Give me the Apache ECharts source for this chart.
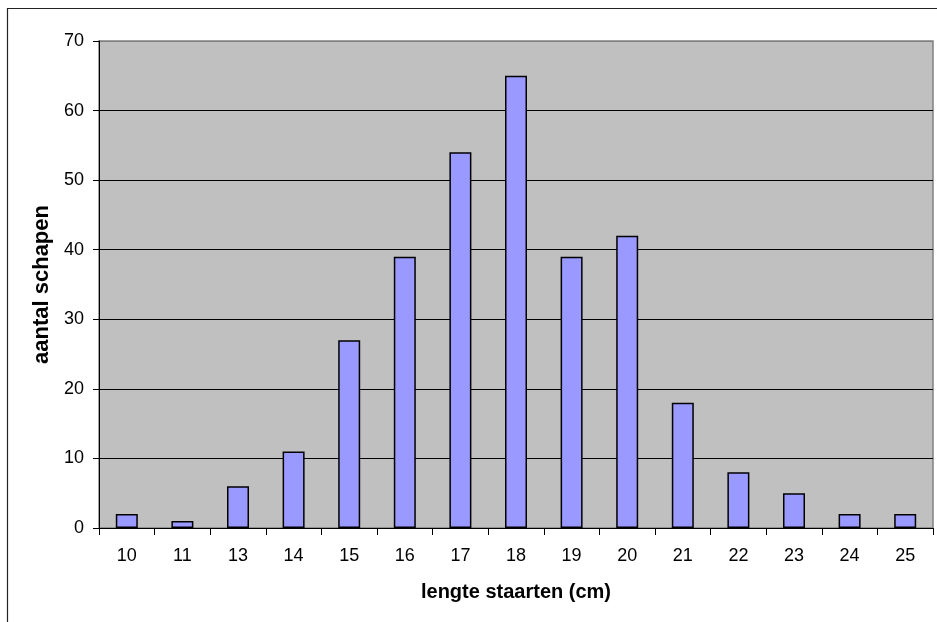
<!DOCTYPE html>
<html>
<head>
<meta charset="utf-8">
<script src="https://cdn.jsdelivr.net/npm/echarts@6/dist/echarts.min.js"></script>
<style>
html,body{margin:0;padding:0;background:#fff;}
#chart{width:937px;height:622px;}
</style>
</head>
<body>
<div id="chart"></div>
<script>
const categories = ['10','11','13','14','15','16','17','18','19','20','21','22','23','24','25'];
const counts = [2,1,6,11,27,39,54,65,39,42,18,8,5,2,2];
const yTicks = {min:0, max:70, interval:10};
const xTitle = 'lengte staarten (cm)';
const yTitle = 'aantal schapen';

const chart = echarts.init(document.getElementById('chart'), null, {renderer:'canvas'});
const font = '"Liberation Sans", Arial, sans-serif';
chart.setOption({
  animation:false,
  backgroundColor:'#fff',
  graphic:[{
    type:'rect', silent:true, z:-10,
    shape:{x:7.5, y:8.5, width:960, height:700},
    style:{fill:'none', stroke:'#222', lineWidth:1.2}
  }],
  grid:{left:99, right:4, top:41, bottom:94, show:true, backgroundColor:'#C0C0C0', borderColor:'#808080', borderWidth:1.5},
  xAxis:{
    type:'category', data:categories,
    name:xTitle, nameLocation:'middle', nameGap:54,
    nameTextStyle:{fontFamily:font, fontSize:20, fontWeight:'bold', color:'#000', verticalAlign:'top'},
    axisLine:{lineStyle:{color:'#000', width:1}},
    axisTick:{show:true, alignWithLabel:false, length:7, lineStyle:{color:'#000'}},
    axisLabel:{fontFamily:font, fontSize:18, color:'#000', margin:19},
    splitLine:{show:false}
  },
  yAxis:{
    type:'value', min:yTicks.min, max:yTicks.max, interval:yTicks.interval,
    name:yTitle, nameLocation:'middle', nameGap:42, nameRotate:90,
    nameTextStyle:{fontFamily:font, fontSize:22, fontWeight:'bold', color:'#000'},
    axisLine:{show:true, lineStyle:{color:'#000', width:1}},
    axisTick:{show:true, inside:false, length:6, lineStyle:{color:'#000'}},
    axisLabel:{fontFamily:font, fontSize:18, color:'#000', margin:15},
    splitLine:{show:true, lineStyle:{color:['#000','#000','#000','#000','#000','#000','#000','#808080'], width:1}}
  },
  series:[{
    type:'bar', data:counts, barWidth:22,
    itemStyle:{color:'#9999FF', borderColor:'#000', borderWidth:1.5}
  }]
});
</script>
</body>
</html>
